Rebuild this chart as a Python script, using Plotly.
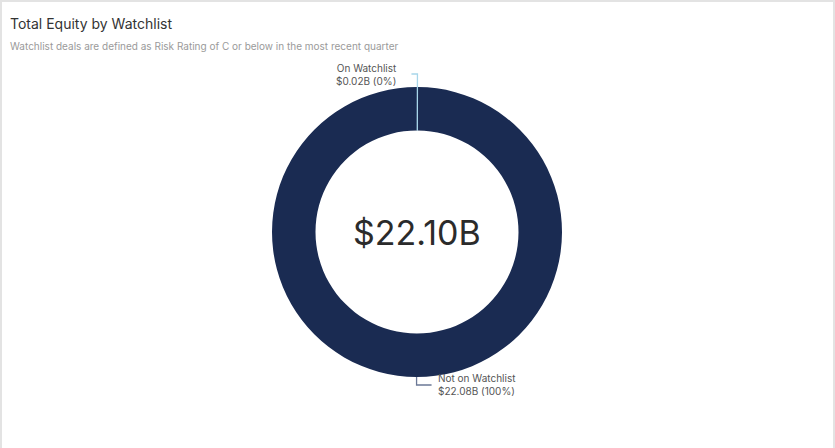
import math
import plotly.graph_objects as go

# ---- data ----
categories = ["On Watchlist", "Not on Watchlist"]
values_b = [0.02, 22.08]          # $ billions
pct_labels = ["0%", "100%"]
total_label = "$22.10B"
title_text = "Total Equity by Watchlist"
subtitle_text = "Watchlist deals are defined as Risk Rating of C or below in the most recent quarter"

colors = ["#a8d6ea", "#1a2b52"]
leader_colors = ["#a8d6ea", "#6b7896"]

W, H = 835, 448
ML, MR, MT, MB = 0, 1, 87, 71
HOLE = 0.70
FONT = "Inter, Noto Sans, sans-serif"

pw, ph = W - ML - MR, H - MT - MB
cx, cy = ML + pw / 2, MT + ph / 2
R = min(pw, ph) / 2
r_in = R * HOLE


def px(x):
    return (x - ML) / pw


def py(y):
    return 1 - (y - MT) / ph


fig = go.Figure()
fig.add_trace(go.Pie(
    labels=categories,
    values=values_b,
    hole=HOLE,
    sort=False,
    direction="clockwise",
    rotation=0,
    marker=dict(colors=colors, line=dict(width=0)),
    textinfo="none",
    hoverinfo="label+value",
    showlegend=False,
))

shapes = []
annotations = []

# border frame (light grey top/left/right edges)
shapes.append(dict(type="rect", xref="paper", yref="paper", layer="below",
                   x0=px(2), x1=px(833), y0=py(H + 5), y1=py(2),
                   fillcolor="white", line=dict(width=0)))

total = sum(values_b)
cum = 0
for i, (cat, v) in enumerate(zip(categories, values_b)):
    mid = (cum + v / 2) / total * 2 * math.pi
    cum += v
    s, c = math.sin(mid), math.cos(mid)
    up = c > 0
    if up:
        r_start = r_in
        ext = 13
        hdir = -1
        hlen = 6
    else:
        r_start = R
        ext = 8
        hdir = 1
        hlen = 15
    x0, y0 = cx + r_start * s, cy - r_start * c
    x1, y1 = cx + (R + ext) * s, cy - (R + ext) * c
    x2 = x1 + hdir * hlen
    path = f"M {px(x0)},{py(y0)} L {px(x1)},{py(y1)} L {px(x2)},{py(y1)}"
    shapes.append(dict(type="path", xref="paper", yref="paper", path=path,
                       line=dict(color=leader_colors[i], width=1.3)))
    label = f"{cat}<br>${v:.2f}B ({pct_labels[i]})"
    annotations.append(dict(
        xref="paper", yref="paper", x=px(x2 + hdir * (12 if up else 4)), y=py(y1),
        text=label, showarrow=False,
        xanchor="right" if hdir < 0 else "left", yanchor="middle",
        align="right" if hdir < 0 else "left",
        font=dict(family=FONT, size=10, color="#555555"),
    ))

# centre total
annotations.append(dict(xref="paper", yref="paper", x=px(cx), y=py(cy),
                        text=total_label, showarrow=False,
                        xanchor="center", yanchor="middle",
                        font=dict(family=FONT, size=34, color="#2b2b2b")))
# title and subtitle
annotations.append(dict(xref="paper", yref="paper", x=px(8), y=py(24),
                        text=title_text, showarrow=False,
                        xanchor="left", yanchor="middle",
                        font=dict(family=FONT, size=14, color="#333333")))
annotations.append(dict(xref="paper", yref="paper", x=px(8), y=py(46),
                        text=subtitle_text, showarrow=False,
                        xanchor="left", yanchor="middle",
                        font=dict(family=FONT, size=10, color="#9a9a9a")))

fig.update_layout(
    width=W, height=H,
    margin=dict(l=ML, r=MR, t=MT, b=MB, autoexpand=False),
    paper_bgcolor="#e3e3e3",
    plot_bgcolor="white",
    shapes=shapes,
    annotations=annotations,
    font=dict(family=FONT),
)

fig.write_html("out.html", config={"displayModeBar": False})
